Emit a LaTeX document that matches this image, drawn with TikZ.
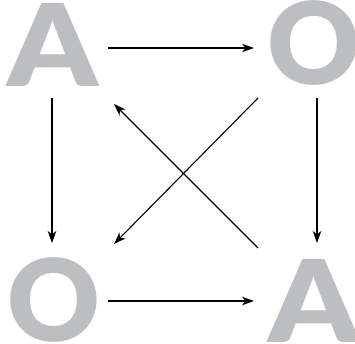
\documentclass[tikz,border=0pt]{standalone}
\usepackage{fontspec}
\usetikzlibrary{arrows.meta}
\newfontfamily\heavyfont{Lato Black}
\definecolor{lettergray}{RGB}{189,190,193}
\begin{document}
\begin{tikzpicture}[x=1pt,y=1pt,
  letter/.style={font=\heavyfont\fontsize{114}{114}\selectfont, text=lettergray, inner sep=0pt, anchor=base},
  arr/.style={line width=1.1pt, -{Stealth[length=12pt,width=8.5pt,inset=3.5pt]}}]
\useasboundingbox (0,0) rectangle (355,-344);
\node[letter] (tl) at (53,-87) {\scalebox{1.12}[1]{A}};
\node[letter] (tr) at (314,-85) {O};
\node[letter] (bl) at (53.5,-341) {O};
\node[letter] (br) at (313.5,-342) {\scalebox{1.12}[1]{A}};
\coordinate (tlE) at (108,-48);
\coordinate (trW) at (254,-48);
\coordinate (blE) at (108,-301);
\coordinate (brW) at (254,-301);
\coordinate (tlS) at (52,-98);
\coordinate (blN) at (52,-243);
\coordinate (trS) at (317,-98);
\coordinate (brN) at (317,-243);
\coordinate (trSW) at (258,-98);
\coordinate (blNE) at (114,-244);
\coordinate (brNW) at (258,-248);
\coordinate (tlSE) at (114,-104);
\draw[arr] (tlE) -- (trW);
\draw[arr] (blE) -- (brW);
\draw[arr] (tlS) -- (blN);
\draw[arr] (trS) -- (brN);
\draw[arr] (trSW) -- (blNE);
\draw[arr] (brNW) -- (tlSE);
\end{tikzpicture}
\end{document}
